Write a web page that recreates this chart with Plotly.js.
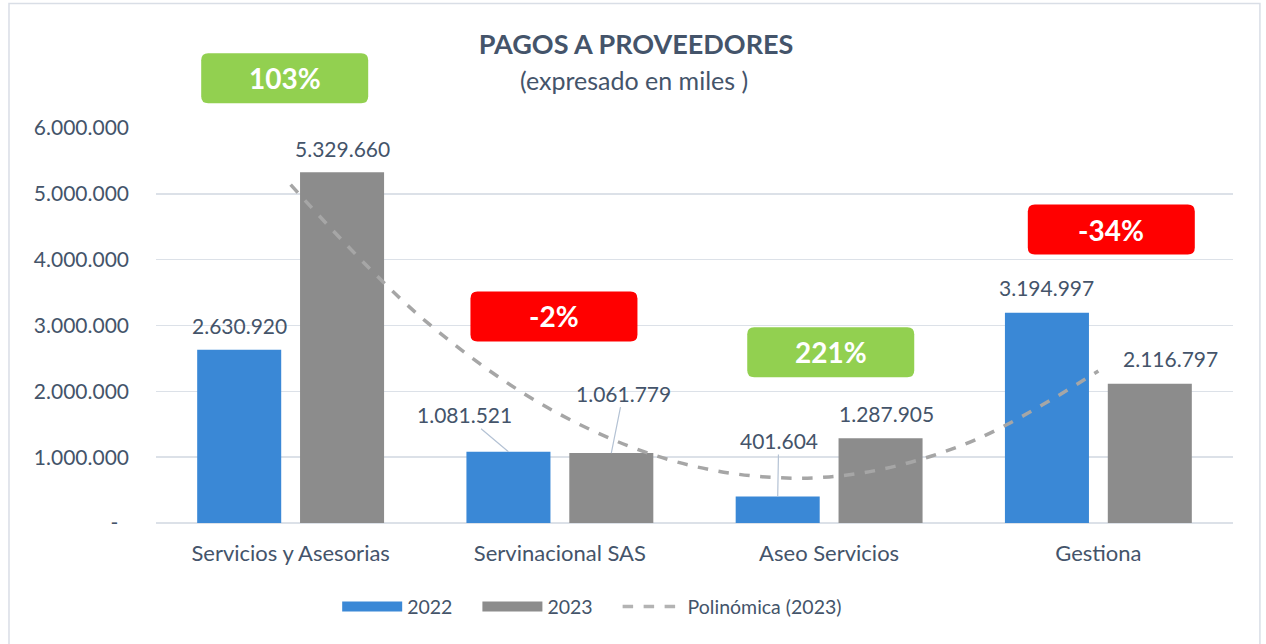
<!DOCTYPE html>
<html>
<head>
<meta charset="utf-8">
<script src="https://cdn.plot.ly/plotly-3.0.1.min.js"></script>
<style>
  html, body { margin: 0; padding: 0; background: #ffffff; }
  #chart { width: 1266px; height: 644px; }
</style>
</head>
<body>
<div id="chart"></div>
<script>
// ---- data ----
const categories = ['Servicios y Asesorias', 'Servinacional SAS', 'Aseo Servicios', 'Gestiona'];
const values2022 = [2630920, 1081521, 401604, 3194997];
const values2023 = [5329660, 1061779, 1287905, 2116797];
const badgeLabels = ['103%', '-2%', '221%', '-34%'];
const badgeColors = ['#92D050', '#FF0000', '#92D050', '#FF0000'];
// polynomial trend of 2023 (category index positions)
const trendX = [0, 0.5, 1, 1.5, 2, 2.5, 3];
const trendY = [5140000, 3070000, 1650000, 860000, 700000, 1190000, 2310000];
const yTickVals = [0, 1000000, 2000000, 3000000, 4000000, 5000000, 6000000];
const yTickText = ['-\u00A0\u00A0', '1.000.000', '2.000.000', '3.000.000', '4.000.000', '5.000.000', '6.000.000'];

// ---- styling / placement (not data) ----
const TXT = '#44546A';
const FONT = 'Lato, "Open Sans", sans-serif';
const BLUE = '#3A88D6';
const GRAY = '#8C8C8C';
const catIdx = categories.map((_, i) => i);
const barOffset = 0.191;
const PAD = '\u00A0\u00A0\u00A0\u00A0';

function fmt(n) {
  return String(Math.round(n)).replace(/\B(?=(\d{3})+(?!\d))/g, '.');
}

// label placement per bar: [dx px, dy px, leader line?]
const lab22 = [[0, -24, false], [-44, -37, true], [1, -56, true], [0, -25, false]];
const lab23 = [[0, -24, false], [12, -60, true], [6, -25, false], [21, -25, false]];
// badge placement: [dx in category units, y in paper]
const badgePos = [[-0.022, 1.126], [-0.022, 0.523], [0.006, 0.432], [0.048, 0.743]];
const BW = 167, BH = 50, BR = 7;

const traces = [
  {
    type: 'bar', name: '2022', x: catIdx, y: values2022, showlegend: false,
    marker: { color: BLUE, line: { width: 0 } }, hoverinfo: 'skip'
  },
  {
    type: 'bar', name: '2023', x: catIdx, y: values2023, showlegend: false,
    marker: { color: GRAY, line: { width: 0 } }, hoverinfo: 'skip'
  },
  {
    type: 'scatter', mode: 'lines', name: 'Polinómica (2023)',
    x: trendX, y: trendY, showlegend: false,
    line: { color: '#A6A6A6', width: 3.5, dash: 'dash', shape: 'spline', smoothing: 1 },
    hoverinfo: 'skip'
  },
  // legend entries (no marks drawn; wide swatches like the reference)
  { type: 'scatter', mode: 'lines', name: '2022' + PAD, x: [null], y: [null],
    line: { color: BLUE, width: 13 }, hoverinfo: 'skip' },
  { type: 'scatter', mode: 'lines', name: '2023' + PAD, x: [null], y: [null],
    line: { color: GRAY, width: 13 }, hoverinfo: 'skip' },
  { type: 'scatter', mode: 'lines', name: 'Polinómica (2023)', x: [null], y: [null],
    line: { color: '#B3B3B3', width: 3.5, dash: 'dash' }, hoverinfo: 'skip' }
];

const annotations = [];
function addLabel(i, val, off, side) {
  const xv = i + side * barOffset;
  if (off[2]) {
    annotations.push({
      x: xv, y: val, xref: 'x', yref: 'y', text: fmt(val),
      showarrow: true, arrowhead: 0, arrowwidth: 1.2, arrowcolor: '#B4C2D4',
      ax: off[0], ay: off[1], standoff: 0,
      font: { family: FONT, size: 21, color: TXT }
    });
  } else {
    annotations.push({
      x: xv, y: val, xref: 'x', yref: 'y', text: fmt(val),
      showarrow: false, xshift: off[0], yshift: -off[1],
      xanchor: 'center', yanchor: 'middle',
      font: { family: FONT, size: 21, color: TXT }
    });
  }
}
values2022.forEach((v, i) => addLabel(i, v, lab22[i], -1));
values2023.forEach((v, i) => addLabel(i, v, lab23[i], 1));

function roundRect(w, h, r) {
  const x0 = -w / 2, x1 = w / 2, y0 = -h / 2, y1 = h / 2;
  return 'M' + (x0 + r) + ',' + y0 + ' L' + (x1 - r) + ',' + y0 +
    ' Q' + x1 + ',' + y0 + ' ' + x1 + ',' + (y0 + r) +
    ' L' + x1 + ',' + (y1 - r) + ' Q' + x1 + ',' + y1 + ' ' + (x1 - r) + ',' + y1 +
    ' L' + (x0 + r) + ',' + y1 + ' Q' + x0 + ',' + y1 + ' ' + x0 + ',' + (y1 - r) +
    ' L' + x0 + ',' + (y0 + r) + ' Q' + x0 + ',' + y0 + ' ' + (x0 + r) + ',' + y0 + ' Z';
}

const shapes = [{
  type: 'rect', xref: 'paper', yref: 'paper',
  x0: -0.1365, x1: 1.025, y0: -0.4, y1: 1.315,
  line: { color: '#D9DEE6', width: 1.5 }, fillcolor: 'rgba(0,0,0,0)', layer: 'below'
}];

badgeLabels.forEach((t, i) => {
  const bx = i + badgePos[i][0], by = badgePos[i][1];
  shapes.push({
    type: 'path', xref: 'x', yref: 'paper',
    xsizemode: 'pixel', ysizemode: 'pixel', xanchor: bx, yanchor: by,
    path: roundRect(BW, BH, BR),
    fillcolor: badgeColors[i], line: { width: 0 }, layer: 'above'
  });
  annotations.push({
    x: bx, y: by, xref: 'x', yref: 'paper',
    text: '<b>' + t + '</b>', showarrow: false,
    xanchor: 'center', yanchor: 'middle',
    font: { family: FONT, size: 28, color: '#FFFFFF' }
  });
});

annotations.push({
  x: 0.444, y: 1.122, xref: 'paper', yref: 'paper', showarrow: false,
  text: '(expresado en miles )', xanchor: 'center', yanchor: 'middle',
  font: { family: FONT, size: 25, color: TXT }
});

const layout = {
  width: 1266, height: 644,
  margin: { l: 156, r: 33, t: 128, b: 121 },
  paper_bgcolor: '#FFFFFF', plot_bgcolor: '#FFFFFF',
  font: { family: FONT, color: TXT },
  separators: ',.',
  title: {
    text: '<b>PAGOS A PROVEEDORES</b>',
    x: 0.4457, xanchor: 'center', xref: 'paper',
    y: 1 - 45 / 644, yanchor: 'middle', yref: 'container',
    font: { family: FONT, size: 27, color: TXT }
  },
  barmode: 'group', bargap: 0.236, bargroupgap: 0.183,
  showlegend: true,
  legend: {
    orientation: 'h', x: 0.405, xanchor: 'center', y: -0.212, yanchor: 'middle',
    font: { family: FONT, size: 19.5, color: TXT },
    itemwidth: 60, traceorder: 'normal', tracegroupgap: 0
  },
  xaxis: {
    range: [-0.5, 3.5], tickvals: catIdx, ticktext: categories,
    showgrid: false, zeroline: false, showline: false, ticks: '',
    ticklabelstandoff: 15,
    tickfont: { family: FONT, size: 22, color: TXT }
  },
  yaxis: {
    range: [0, 6000000], tickvals: yTickVals, ticktext: yTickText,
    showgrid: true, gridcolor: '#DCE1E8', gridwidth: 1.5,
    zeroline: true, zerolinecolor: '#DCE1E8', zerolinewidth: 1.5,
    showline: false, ticks: '', ticklabelstandoff: 26,
    tickfont: { family: FONT, size: 21, color: TXT }
  },
  annotations: annotations,
  shapes: shapes
};

Plotly.newPlot('chart', traces, layout, { displayModeBar: false, staticPlot: true });
</script>
</body>
</html>
